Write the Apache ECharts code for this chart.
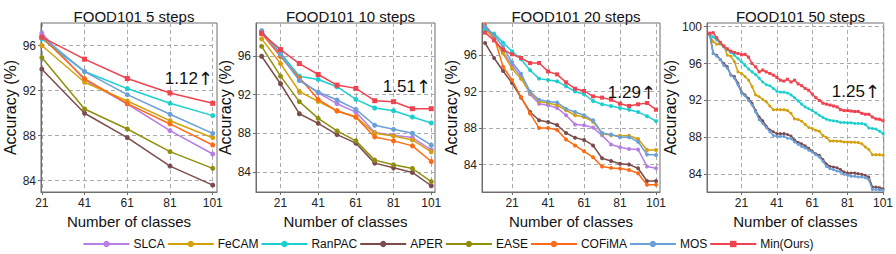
<!DOCTYPE html>
<html>
<head>
<meta charset="utf-8">
<script src="https://cdn.jsdelivr.net/npm/echarts@6/dist/echarts.min.js"></script>
<style>
html,body{margin:0;padding:0;background:#fff;}
#chart{width:896px;height:254px;}
</style>
</head>
<body>
<div id="chart"></div>
<script>
// ---------- data ----------
const METHODS = ['SLCA', 'FeCAM', 'RanPAC', 'APER', 'EASE', 'COFiMA', 'MOS', 'Min(Ours)'];
const COLORS = ['#b67ee6', '#d4a00c', '#1ccfcf', '#7c4c4c', '#8f8f0c', '#ff6a14', '#6b9fd8', '#f0434f'];
const TITLES = ['FOOD101 5 steps', 'FOOD101 10 steps', 'FOOD101 20 steps', 'FOOD101 50 steps'];
const GAINS = ['1.12', '1.51', '1.29', '1.25'];
const X_TICKS = [21, 41, 61, 81, 101];
const Y_TICKS_A = [84, 88, 92, 96];
const Y_TICKS_B = [84, 88, 92, 96, 100];

// 5 steps
const S5_X = [21, 41, 61, 81, 101];
const S5_SLCA = [97.1, 92.95, 90.81, 88.44, 86.37];
const S5_FeCAM = [96.0, 92.74, 91.08, 89.33, 87.82];
const S5_RanPAC = [96.6, 93.69, 92.18, 90.87, 89.78];
const S5_APER = [93.9, 89.99, 87.82, 85.3, 83.61];
const S5_EASE = [94.93, 90.37, 88.59, 86.58, 85.1];
const S5_COFiMA = [96.74, 93.07, 90.84, 89.04, 87.17];
const S5_MOS = [96.8, 93.69, 91.64, 89.9, 88.2];
const S5_Min = [96.74, 94.79, 93.07, 91.79, 90.87];

// 10 steps
const S10_X = [11, 21, 31, 41, 51, 61, 71, 81, 91, 101];
const S10_SLCA = [98.4, 96.0, 93.59, 92.2, 91.07, 90.2, 88.07, 87.79, 87.55, 86.28];
const S10_FeCAM = [97.8, 95.24, 92.34, 91.31, 90.34, 89.72, 88.0, 87.72, 87.31, 86.07];
const S10_RanPAC = [98.55, 96.34, 93.93, 93.59, 92.83, 91.52, 90.62, 90.34, 89.69, 89.07];
const S10_APER = [96.0, 93.14, 90.03, 89.03, 87.86, 86.97, 84.9, 84.41, 83.93, 82.55];
const S10_EASE = [97.03, 93.93, 91.28, 89.55, 88.24, 87.21, 85.21, 84.72, 84.34, 82.97];
const S10_COFiMA = [98.38, 96.0, 93.76, 91.52, 90.31, 89.66, 87.62, 87.21, 86.69, 85.07];
const S10_MOS = [98.66, 96.17, 93.48, 92.28, 91.45, 90.48, 88.83, 88.41, 88.0, 86.76];
const S10_Min = [98.38, 96.69, 95.24, 94.1, 93.0, 92.66, 91.38, 91.28, 90.55, 90.55];

// 20 steps
const S20_X = [6, 11, 16, 21, 26, 31, 36, 41, 46, 51, 56, 61, 66, 71, 76, 81, 86, 91, 96, 101];
const S20_SLCA = [99.0, 97.8, 96.3, 94.9, 93.6, 91.7, 90.67, 90.5, 90.2, 89.4, 88.4, 88.3, 88.05, 87.2, 86.2, 85.9, 85.7, 85.65, 83.8, 83.6];
const S20_FeCAM = [98.9, 97.8, 96.15, 94.5, 93.4, 91.9, 90.9, 90.74, 90.5, 89.95, 89.4, 89.2, 88.7, 87.4, 87.2, 87.15, 87.15, 86.8, 85.6, 85.6];
const S20_RanPAC = [98.81, 98.34, 97.35, 96.4, 95.53, 94.32, 93.41, 93.26, 93.12, 92.57, 92.0, 91.7, 90.96, 90.6, 90.42, 90.2, 90.0, 89.75, 89.3, 88.76];
const S20_APER = [97.31, 95.67, 94.25, 92.93, 91.33, 89.76, 88.85, 88.66, 88.34, 87.46, 86.95, 86.7, 86.1, 84.7, 84.4, 84.1, 84.0, 83.6, 82.2, 82.2];
const S20_EASE = [];
const S20_COFiMA = [99.3, 98.0, 94.7, 93.26, 91.4, 89.6, 88.0, 88.0, 87.8, 86.74, 86.1, 85.45, 84.8, 83.78, 83.64, 83.56, 83.4, 83.05, 81.8, 81.8];
const S20_MOS = [99.14, 98.15, 96.9, 95.2, 93.95, 92.0, 91.1, 90.9, 90.8, 90.1, 89.76, 89.4, 88.85, 87.46, 87.3, 87.0, 87.0, 86.5, 85.1, 85.05];
const S20_Min = [98.45, 97.6, 96.58, 96.07, 95.67, 95.12, 95.12, 94.2, 93.88, 93.0, 92.31, 92.06, 91.47, 91.33, 91.1, 90.67, 90.42, 90.6, 90.74, 90.01];

// 50 steps
const S50_X = [3, 5, 7, 9, 11, 13, 15, 17, 19, 21, 23, 25, 27, 29, 31, 33, 35, 37, 39, 41, 43, 45, 47, 49, 51,
               53, 55, 57, 59, 61, 63, 65, 67, 69, 71, 73, 75, 77, 79, 81, 83, 85, 87, 89, 91, 93, 95, 97, 99, 101];
const S50_SLCA = [];
const S50_FeCAM = [99.1, 98.37, 98.1, 98.1, 97.9, 96.9, 96.8, 96.2, 95.1, 94.93, 94.6, 94.2, 93.5, 92.6, 92.4, 92.1, 91.85, 91.4, 91.0, 91.0, 91.0, 91.0, 90.9, 90.6, 90.0,
                   89.93, 89.75, 89.4, 89.06, 88.95, 88.77, 88.66, 88.2, 87.97, 87.6, 87.6, 87.57, 87.57, 87.5, 87.5, 87.46, 87.46, 87.43, 87.3, 86.96, 86.67, 86.12, 86.12, 86.12, 86.05];
const S50_RanPAC = [99.2, 98.9, 98.55, 98.2, 97.8, 97.5, 97.2, 96.9, 96.55, 96.2, 95.8, 95.4, 95.1, 94.8, 94.4, 94.0, 93.7, 93.6, 93.3, 93.0, 92.9, 92.9, 92.8, 92.6, 92.3,
                    91.95, 91.6, 91.3, 91.1, 90.9, 90.65, 90.4, 90.15, 89.96, 89.85, 89.8, 89.75, 89.6, 89.6, 89.57, 89.57, 89.5, 89.5, 89.5, 89.4, 89.0, 88.95, 88.9, 88.66, 88.4];
const S50_APER = [99.2, 97.1, 96.9, 96.45, 96.0, 95.65, 94.75, 94.6, 93.85, 92.9, 92.6, 92.2, 91.7, 90.9, 90.2, 89.8, 89.2, 88.8, 88.6, 88.4, 88.4, 88.4, 88.3, 88.15, 87.7,
                  87.45, 87.3, 87.07, 86.8, 86.5, 86.2, 86.05, 85.6, 85.1, 84.85, 84.78, 84.7, 84.5, 84.24, 84.13, 84.13, 84.13, 84.06, 83.98, 83.88, 83.7, 82.6, 82.6, 82.54, 82.43];
const S50_EASE = [];
const S50_COFiMA = [];
const S50_MOS = [99.2, 97.1, 96.8, 96.45, 95.8, 95.5, 94.75, 94.4, 93.7, 92.8, 92.5, 92.0, 91.5, 90.76, 89.9, 89.5, 89.06, 88.6, 88.2, 88.1, 88.1, 88.1, 87.9, 87.86, 87.5,
                 87.25, 87.0, 86.85, 86.6, 86.4, 86.1, 85.87, 85.4, 84.85, 84.6, 84.5, 84.35, 84.24, 84.0, 83.88, 83.77, 83.77, 83.7, 83.7, 83.62, 83.4, 82.35, 82.35, 82.3, 82.25];
const S50_Min = [99.3, 99.35, 98.8, 98.3, 97.9, 97.6, 97.35, 97.2, 97.1, 96.95, 97.0, 96.7, 96.0, 95.65, 95.1, 95.3, 95.1, 94.93, 94.75, 94.5, 94.2, 94.1, 94.3, 94.0, 94.2,
                 93.8, 93.6, 93.3, 93.1, 92.7, 92.3, 92.0, 91.7, 91.6, 91.5, 91.4, 91.3, 91.0, 90.9, 90.9, 90.85, 90.8, 90.8, 90.6, 90.5, 90.5, 90.2, 90.0, 89.96, 89.8];

// ---------- layout ----------
const FONT = "'Liberation Sans', Arial, sans-serif";
const PANELS = [
  { x: S5_X,  ys: [S5_SLCA, S5_FeCAM, S5_RanPAC, S5_APER, S5_EASE, S5_COFiMA, S5_MOS, S5_Min],
    grid: { left: 41, top: 23, width: 176, height: 169 }, xr: [20.6, 103], yr: [83, 98], yt: Y_TICKS_A, sym: 5, nameGap: 23, gainPos: [213, 78] },
  { x: S10_X, ys: [S10_SLCA, S10_FeCAM, S10_RanPAC, S10_APER, S10_EASE, S10_COFiMA, S10_MOS, S10_Min],
    grid: { left: 256, top: 23, width: 179, height: 169 }, xr: [8, 103], yr: [81.9, 99.45], yt: Y_TICKS_A, sym: 5, nameGap: 15, gainPos: [431, 86] },
  { x: S20_X, ys: [S20_SLCA, S20_FeCAM, S20_RanPAC, S20_APER, S20_EASE, S20_COFiMA, S20_MOS, S20_Min],
    grid: { left: 482, top: 23, width: 178, height: 169 }, xr: [4.3, 103.2], yr: [81.0, 99.5], yt: Y_TICKS_A, sym: 4, nameGap: 16, gainPos: [656, 92] },
  { x: S50_X, ys: [S50_SLCA, S50_FeCAM, S50_RanPAC, S50_APER, S50_EASE, S50_COFiMA, S50_MOS, S50_Min],
    grid: { left: 707, top: 23, width: 177, height: 169 }, xr: [1.5, 101.4], yr: [82.07, 100.4], yt: Y_TICKS_B, sym: 3, nameGap: 22, gainPos: [880, 91] }
];

const AXIS_COLOR = '#6e6e6e';
const grids = [], xAxes = [], yAxes = [], series = [], titles = [], graphics = [];

PANELS.forEach((p, i) => {
  grids.push(Object.assign({ show: true, borderColor: AXIS_COLOR, borderWidth: 1, containLabel: false }, p.grid));
  titles.push({
    text: TITLES[i], left: p.grid.left + p.grid.width / 2, top: 4, textAlign: 'center',
    textStyle: { fontFamily: FONT, fontSize: 15, fontWeight: 'normal', color: '#111' }
  });
  xAxes.push({
    type: 'value', gridIndex: i, min: p.xr[0], max: p.xr[1],
    name: 'Number of classes', nameLocation: 'middle', nameGap: 18,
    nameTextStyle: { fontFamily: FONT, fontSize: 15, color: '#111' },
    axisLine: { show: true, lineStyle: { color: AXIS_COLOR } },
    axisTick: { show: true, length: 3, customValues: X_TICKS, lineStyle: { color: AXIS_COLOR } },
    axisLabel: { customValues: X_TICKS, margin: 5, fontFamily: FONT, fontSize: 12, color: '#222' },
    splitLine: { show: true, lineStyle: { color: '#aaaaaa', type: [4, 3], width: 1 } }
  });
  yAxes.push({
    type: 'value', gridIndex: i, min: p.yr[0], max: p.yr[1],
    name: 'Accuracy (%)', nameLocation: 'middle', nameGap: p.nameGap,
    nameTextStyle: { fontFamily: FONT, fontSize: 16, color: '#111' },
    axisLine: { show: true, lineStyle: { color: AXIS_COLOR } },
    axisTick: { show: true, length: 3, customValues: p.yt, lineStyle: { color: AXIS_COLOR } },
    axisLabel: { customValues: p.yt, margin: 5, fontFamily: FONT, fontSize: 12, color: '#222' },
    splitLine: { show: true, lineStyle: { color: '#aaaaaa', type: [4, 3], width: 1 } }
  });
  METHODS.forEach((m, k) => {
    const vals = p.ys[k];
    if (!vals.length) return;
    series.push({
      type: 'line', name: m, xAxisIndex: i, yAxisIndex: i,
      data: p.x.map((xv, j) => [xv, vals[j]]),
      symbol: m === 'Min(Ours)' ? 'rect' : 'circle',
      symbolSize: p.sym, showSymbol: true,
      color: COLORS[k],
      lineStyle: { width: 1.5, color: COLORS[k] },
      itemStyle: { color: COLORS[k] },
      animation: false, z: 2 + k
    });
  });
  graphics.push({
    type: 'text', x: p.gainPos[0], y: p.gainPos[1], z: 100,
    style: {
      text: '{n|' + GAINS[i] + '}{a|\u2191}',
      rich: {
        n: { fontFamily: FONT, fontSize: 17, fill: '#111' },
        a: { fontFamily: "'DejaVu Sans'", fontSize: 18, fill: '#111' }
      },
      textAlign: 'right', textVerticalAlign: 'middle'
    }
  });
});

const chart = echarts.init(document.getElementById('chart'), null, { renderer: 'svg' });
chart.setOption({
  animation: false,
  backgroundColor: '#fff',
  title: titles,
  grid: grids,
  xAxis: xAxes,
  yAxis: yAxes,
  series: series,
  graphic: graphics,
  legend: {
    data: METHODS, left: 'center', top: 233,
    itemWidth: 46, itemHeight: 8, itemGap: 2,
    textStyle: { fontFamily: FONT, fontSize: 12, color: '#111', padding: [0, 0, 0, -1] }
  }
});
</script>
</body>
</html>
